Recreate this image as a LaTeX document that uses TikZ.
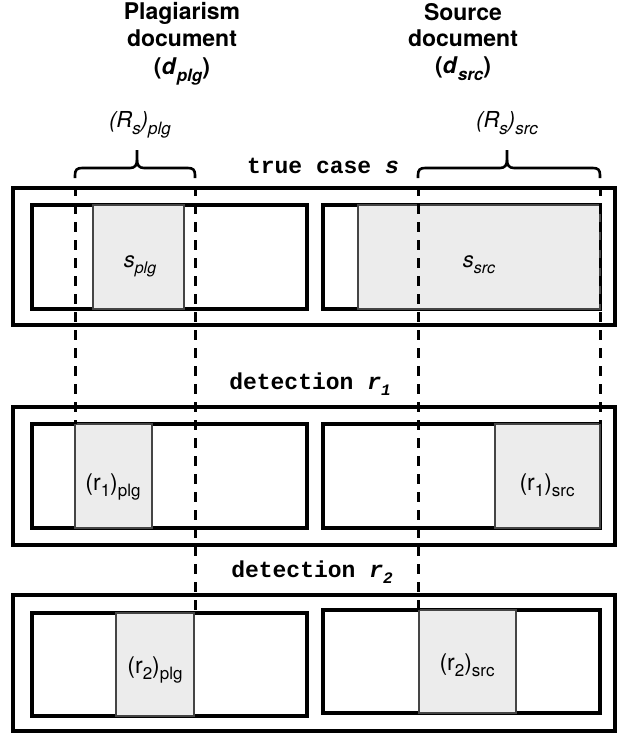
\documentclass[tikz,border=0pt]{standalone}
\usepackage{fontspec}
\setmainfont{TeX Gyre Heros}
\newfontfamily\codefont{Liberation Mono}
\definecolor{passagefill}{HTML}{ECECEC}
\definecolor{passageedge}{HTML}{454545}
% lowered, smaller text for subscripts: \lowsub{size}{text}
\newcommand{\lowsub}[2]{\raisebox{-0.28em}{\fontsize{#1}{#1}\selectfont #2}}

\begin{document}
\begin{tikzpicture}[x=1pt,y=-1pt,
  docframe/.style={draw=black,line width=3.2pt},
  docbox/.style={draw=black,line width=3.2pt,fill=white},
  passage/.style={draw=passageedge,line width=2.6pt,fill=passagefill},
  guide/.style={draw=black,line width=3pt,dash pattern=on 10pt off 8pt,dash phase=10pt},
  curly/.style={draw=black,line width=2.6pt,line join=round},
  heading/.style={font=\bfseries\fontsize{23}{27}\selectfont,anchor=base,inner sep=0pt},
  rangelabel/.style={font=\itshape\fontsize{22}{26}\selectfont,anchor=base,inner sep=0pt},
  caselabel/.style={font=\codefont\bfseries\fontsize{23}{27}\selectfont,anchor=base,inner sep=0pt},
  partlabel/.style={font=\fontsize{23}{27}\selectfont,anchor=base,inner sep=0pt},
]
\useasboundingbox (0,0) rectangle (625,733);

% document headings
\node[heading] (plgA) at (182,20) {Plagiarism};
\node[heading] (plgB) at (182,47) {document};
\node[heading] (plgC) at (182,75) {(\textit{d}\lowsub{17}{\textit{plg}})};
\node[heading] (srcA) at (463,21) {Source};
\node[heading] (srcB) at (463,47) {document};
\node[heading] (srcC) at (463,74) {(\textit{d}\lowsub{17}{\textit{src}})};

% range labels and braces
\node[rangelabel] (rplg) at (140,128) {(R\lowsub{17}{s})\lowsub{17}{plg}};
\node[rangelabel] (rsrc) at (507,128) {(R\lowsub{17}{s})\lowsub{17}{src}};

\coordinate (plgL) at (75,178);
\coordinate (plgR) at (195,178);
\coordinate (srcL) at (418,178);
\coordinate (srcR) at (600,178);

\draw[curly] (plgL) -- (75,175) .. controls (75,170) and (77,168) .. (82,168) -- (130,168)
  .. controls (135,168) and (137,165) .. (137,160) -- (137,150);
\draw[curly] (plgR) -- (195,175) .. controls (195,170) and (193,168) .. (188,168) -- (144,168)
  .. controls (139,168) and (137,165) .. (137,160);
\draw[curly] (srcL) -- (418,175) .. controls (418,170) and (420,168) .. (425,168) -- (500,168)
  .. controls (505,168) and (507,165) .. (507,160) -- (507,150);
\draw[curly] (srcR) -- (600,175) .. controls (600,170) and (598,168) .. (593,168) -- (514,168)
  .. controls (509,168) and (507,165) .. (507,160);

% case labels
\node[caselabel] (truecase) at (323,173) {true case \textit{s}};
\node[caselabel] (det1) at (310,389) {detection \textit{r}\lowsub{16}{\textit{1}}};
\node[caselabel] (det2) at (312,577) {detection \textit{r}\lowsub{16}{\textit{2}}};

% row 1: true case
\draw[docframe] (13,188) rectangle (615,325);
\draw[docbox] (32,205) rectangle (307,309);
\draw[docbox] (323,205) rectangle (600,309);
\draw[passage] (93,205) rectangle (184,309);
\draw[passage] (358,205) rectangle (600,309);
\node[partlabel,font=\itshape\fontsize{22}{26}\selectfont] (splg) at (140,267) {s\lowsub{16}{plg}};
\node[partlabel,font=\itshape\fontsize{22}{26}\selectfont] (ssrc) at (479,267) {s\lowsub{16}{src}};

% row 2: detection r1
\draw[docframe] (13,407) rectangle (615,545);
\draw[docbox] (32,424) rectangle (307,528);
\draw[docbox] (323,424) rectangle (600,528);
\draw[passage] (75,424) rectangle (152,528);
\draw[passage] (495,424) rectangle (600,528);
\node[partlabel] (r1plg) at (113,490) {(r\lowsub{17}{1})\lowsub{17}{plg}};
\node[partlabel] (r1src) at (547,490) {(r\lowsub{17}{1})\lowsub{17}{src}};

% row 3: detection r2
\draw[docframe] (13,595) rectangle (615,731);
\draw[docbox] (32,613) rectangle (307,716);
\draw[docbox] (323,610) rectangle (600,713);
\draw[passage] (116,613) rectangle (194,716);
\draw[passage] (419,610) rectangle (516,713);
\node[partlabel] (r2plg) at (155,673) {(r\lowsub{17}{2})\lowsub{17}{plg}};
\node[partlabel] (r2src) at (467,670) {(r\lowsub{17}{2})\lowsub{17}{src}};

% guide lines from the braces down to the detections
\coordinate (plgLend) at (75,424);
\coordinate (srcRend) at (600,424);
\coordinate (plgRend) at (195,613);
\coordinate (srcLend) at (418,610);
\draw[guide] (plgL) -- (plgLend);
\draw[guide] (srcR) -- (srcRend);
\draw[guide] (plgR) -- (plgRend);
\draw[guide] (srcL) -- (srcLend);
\end{tikzpicture}
\end{document}
